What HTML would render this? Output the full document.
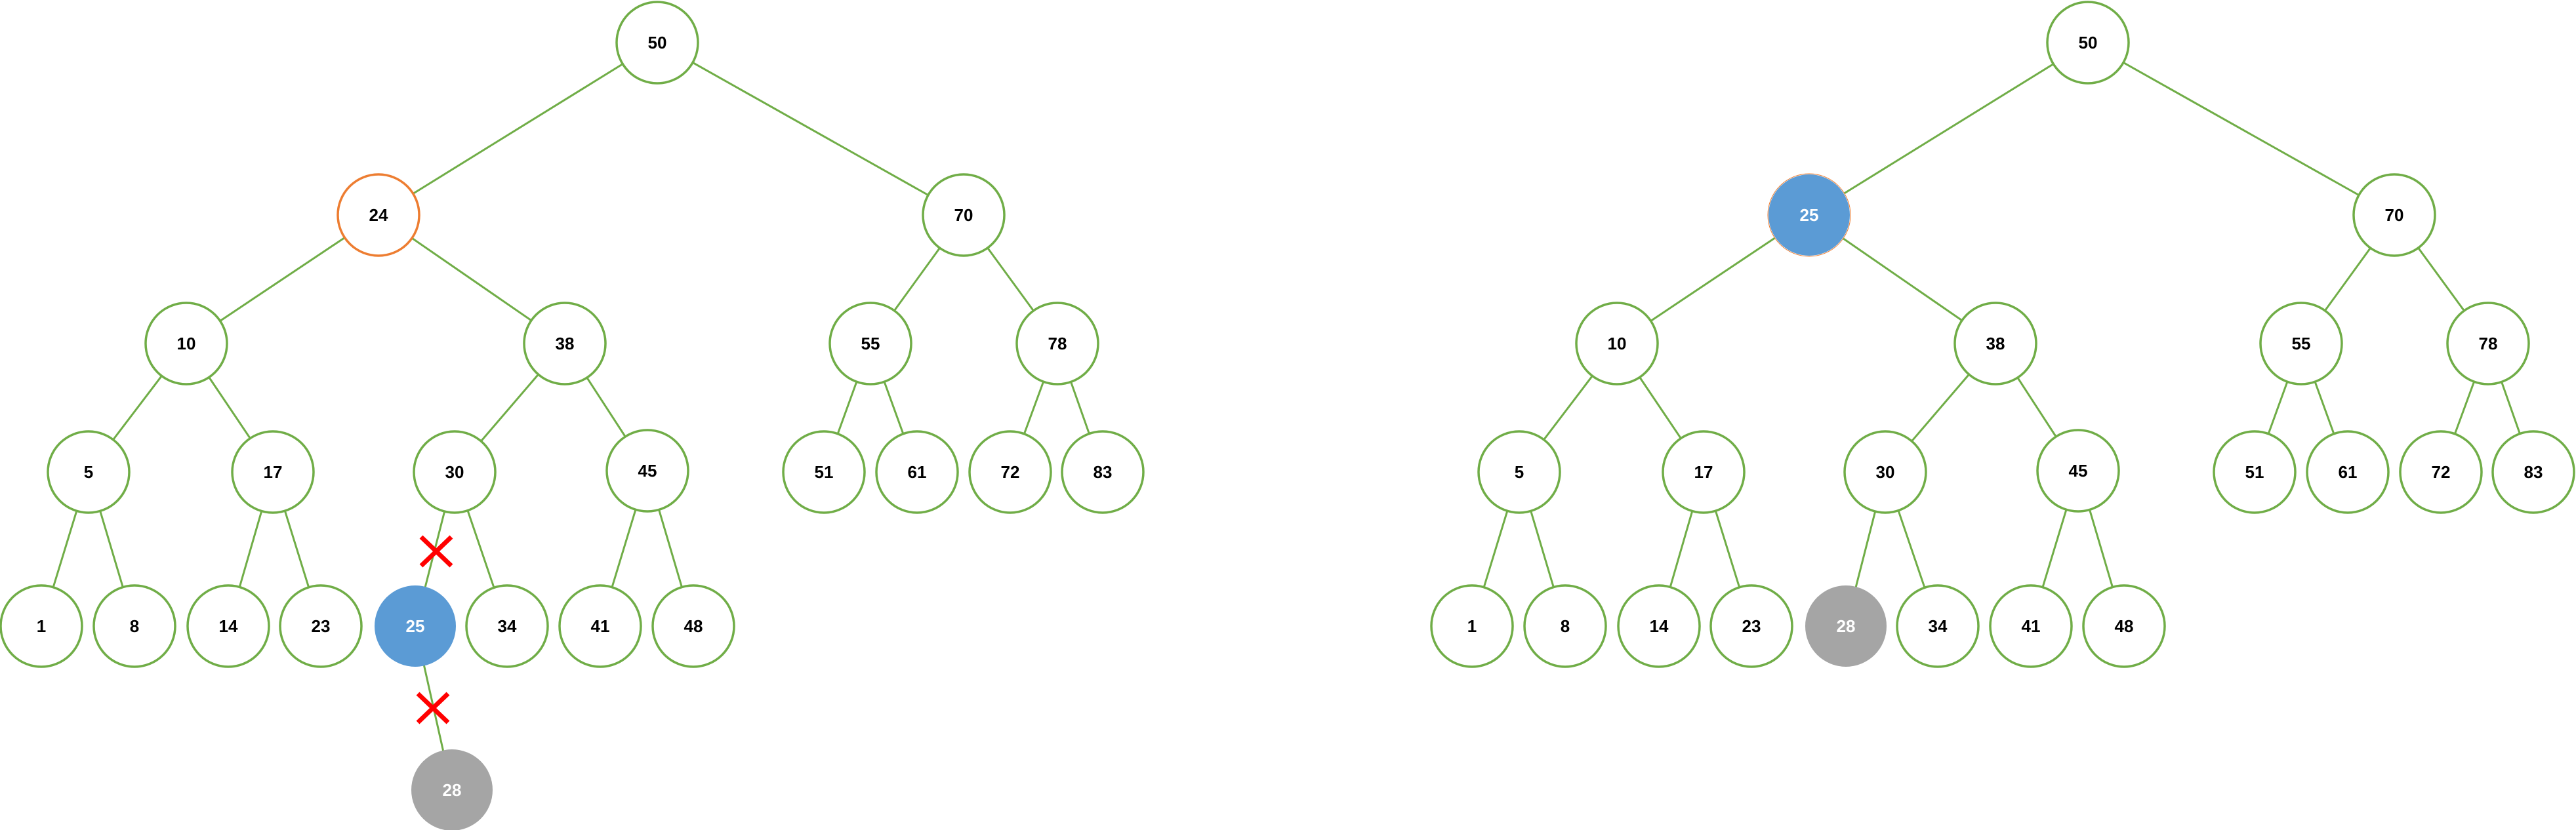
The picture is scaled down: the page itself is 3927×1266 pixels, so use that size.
<!DOCTYPE html>
<html><head><meta charset="utf-8"><style>
html,body{margin:0;padding:0;background:#fff;}
svg{display:block;}
text{font-family:"Liberation Sans",sans-serif;font-weight:bold;font-size:26px;text-anchor:middle;dominant-baseline:central;}
.e{stroke:#70AD47;stroke-width:3;}
.n{fill:#fff;stroke:#70AD47;stroke-width:3.5;}
</style></head><body>
<svg width="3927" height="1266" viewBox="0 0 3927 1266" xmlns="http://www.w3.org/2000/svg">
<!-- LEFT TREE -->
<g>
<line class="e" x1="1002" y1="65" x2="577" y2="328"/>
<line class="e" x1="1002" y1="65" x2="1469" y2="328"/>
<line class="e" x1="577" y1="328" x2="284" y2="524"/>
<line class="e" x1="577" y1="328" x2="861" y2="524"/>
<line class="e" x1="1469" y1="328" x2="1327" y2="524"/>
<line class="e" x1="1469" y1="328" x2="1612" y2="524"/>
<line class="e" x1="284" y1="524" x2="135" y2="720"/>
<line class="e" x1="284" y1="524" x2="416" y2="720"/>
<line class="e" x1="861" y1="524" x2="693" y2="720"/>
<line class="e" x1="861" y1="524" x2="987" y2="718"/>
<line class="e" x1="1327" y1="524" x2="1256" y2="720"/>
<line class="e" x1="1327" y1="524" x2="1398" y2="720"/>
<line class="e" x1="1612" y1="524" x2="1540" y2="720"/>
<line class="e" x1="1612" y1="524" x2="1681" y2="720"/>
<line class="e" x1="135" y1="720" x2="63" y2="955"/>
<line class="e" x1="135" y1="720" x2="205" y2="955"/>
<line class="e" x1="416" y1="720" x2="348" y2="955"/>
<line class="e" x1="416" y1="720" x2="489" y2="955"/>
<line class="e" x1="693" y1="720" x2="633" y2="955"/>
<line class="e" x1="693" y1="720" x2="773" y2="955"/>
<line class="e" x1="987" y1="718" x2="915" y2="955"/>
<line class="e" x1="987" y1="718" x2="1057" y2="955"/>
<line class="e" x1="633" y1="955" x2="689" y2="1205"/>

<circle class="n" cx="1002" cy="65" r="62"/><text x="1002" y="65">50</text>
<circle cx="577" cy="328" r="62" fill="#fff" stroke="#ED7D31" stroke-width="3.5"/><text x="577" y="328">24</text>
<circle class="n" cx="1469" cy="328" r="62"/><text x="1469" y="328">70</text>
<circle class="n" cx="284" cy="524" r="62"/><text x="284" y="524">10</text>
<circle class="n" cx="861" cy="524" r="62"/><text x="861" y="524">38</text>
<circle class="n" cx="1327" cy="524" r="62"/><text x="1327" y="524">55</text>
<circle class="n" cx="1612" cy="524" r="62"/><text x="1612" y="524">78</text>
<circle class="n" cx="135" cy="720" r="62"/><text x="135" y="720">5</text>
<circle class="n" cx="416" cy="720" r="62"/><text x="416" y="720">17</text>
<circle class="n" cx="693" cy="720" r="62"/><text x="693" y="720">30</text>
<circle class="n" cx="987" cy="718" r="62"/><text x="987" y="718">45</text>
<circle class="n" cx="1256" cy="720" r="62"/><text x="1256" y="720">51</text>
<circle class="n" cx="1398" cy="720" r="62"/><text x="1398" y="720">61</text>
<circle class="n" cx="1540" cy="720" r="62"/><text x="1540" y="720">72</text>
<circle class="n" cx="1681" cy="720" r="62"/><text x="1681" y="720">83</text>
<circle class="n" cx="63" cy="955" r="62"/><text x="63" y="955">1</text>
<circle class="n" cx="205" cy="955" r="62"/><text x="205" y="955">8</text>
<circle class="n" cx="348" cy="955" r="62"/><text x="348" y="955">14</text>
<circle class="n" cx="489" cy="955" r="62"/><text x="489" y="955">23</text>
<circle cx="633" cy="955" r="62" fill="#5B9BD5"/><text x="633" y="955" fill="#fff">25</text>
<circle class="n" cx="773" cy="955" r="62"/><text x="773" y="955">34</text>
<circle class="n" cx="915" cy="955" r="62"/><text x="915" y="955">41</text>
<circle class="n" cx="1057" cy="955" r="62"/><text x="1057" y="955">48</text>
<circle cx="689" cy="1205" r="62" fill="#A5A5A5"/><text x="689" y="1205" fill="#fff">28</text>

<g stroke="#FF0000" stroke-width="7">
<line x1="642" y1="819" x2="688" y2="863"/><line x1="688" y1="819" x2="642" y2="863"/>
<line x1="637" y1="1058" x2="683" y2="1102"/><line x1="683" y1="1058" x2="637" y2="1102"/>
</g>
</g>

<!-- RIGHT TREE -->
<g transform="translate(2181,0)">
<line class="e" x1="1002" y1="65" x2="577" y2="328"/>
<line class="e" x1="1002" y1="65" x2="1469" y2="328"/>
<line class="e" x1="577" y1="328" x2="284" y2="524"/>
<line class="e" x1="577" y1="328" x2="861" y2="524"/>
<line class="e" x1="1469" y1="328" x2="1327" y2="524"/>
<line class="e" x1="1469" y1="328" x2="1612" y2="524"/>
<line class="e" x1="284" y1="524" x2="135" y2="720"/>
<line class="e" x1="284" y1="524" x2="416" y2="720"/>
<line class="e" x1="861" y1="524" x2="693" y2="720"/>
<line class="e" x1="861" y1="524" x2="987" y2="718"/>
<line class="e" x1="1327" y1="524" x2="1256" y2="720"/>
<line class="e" x1="1327" y1="524" x2="1398" y2="720"/>
<line class="e" x1="1612" y1="524" x2="1540" y2="720"/>
<line class="e" x1="1612" y1="524" x2="1681" y2="720"/>
<line class="e" x1="135" y1="720" x2="63" y2="955"/>
<line class="e" x1="135" y1="720" x2="205" y2="955"/>
<line class="e" x1="416" y1="720" x2="348" y2="955"/>
<line class="e" x1="416" y1="720" x2="489" y2="955"/>
<line class="e" x1="693" y1="720" x2="633" y2="955"/>
<line class="e" x1="693" y1="720" x2="773" y2="955"/>
<line class="e" x1="987" y1="718" x2="915" y2="955"/>
<line class="e" x1="987" y1="718" x2="1057" y2="955"/>

<circle class="n" cx="1002" cy="65" r="62"/><text x="1002" y="65">50</text>
<circle cx="577" cy="328" r="63" fill="#fff" stroke="#ED7D31" stroke-width="1"/>
<circle cx="577" cy="328" r="62" fill="#5B9BD5"/><text x="577" y="328" fill="#fff">25</text>
<circle class="n" cx="1469" cy="328" r="62"/><text x="1469" y="328">70</text>
<circle class="n" cx="284" cy="524" r="62"/><text x="284" y="524">10</text>
<circle class="n" cx="861" cy="524" r="62"/><text x="861" y="524">38</text>
<circle class="n" cx="1327" cy="524" r="62"/><text x="1327" y="524">55</text>
<circle class="n" cx="1612" cy="524" r="62"/><text x="1612" y="524">78</text>
<circle class="n" cx="135" cy="720" r="62"/><text x="135" y="720">5</text>
<circle class="n" cx="416" cy="720" r="62"/><text x="416" y="720">17</text>
<circle class="n" cx="693" cy="720" r="62"/><text x="693" y="720">30</text>
<circle class="n" cx="987" cy="718" r="62"/><text x="987" y="718">45</text>
<circle class="n" cx="1256" cy="720" r="62"/><text x="1256" y="720">51</text>
<circle class="n" cx="1398" cy="720" r="62"/><text x="1398" y="720">61</text>
<circle class="n" cx="1540" cy="720" r="62"/><text x="1540" y="720">72</text>
<circle class="n" cx="1681" cy="720" r="62"/><text x="1681" y="720">83</text>
<circle class="n" cx="63" cy="955" r="62"/><text x="63" y="955">1</text>
<circle class="n" cx="205" cy="955" r="62"/><text x="205" y="955">8</text>
<circle class="n" cx="348" cy="955" r="62"/><text x="348" y="955">14</text>
<circle class="n" cx="489" cy="955" r="62"/><text x="489" y="955">23</text>
<circle cx="633" cy="955" r="62" fill="#A5A5A5"/><text x="633" y="955" fill="#fff">28</text>
<circle class="n" cx="773" cy="955" r="62"/><text x="773" y="955">34</text>
<circle class="n" cx="915" cy="955" r="62"/><text x="915" y="955">41</text>
<circle class="n" cx="1057" cy="955" r="62"/><text x="1057" y="955">48</text>
</g>
</svg>
</body></html>
